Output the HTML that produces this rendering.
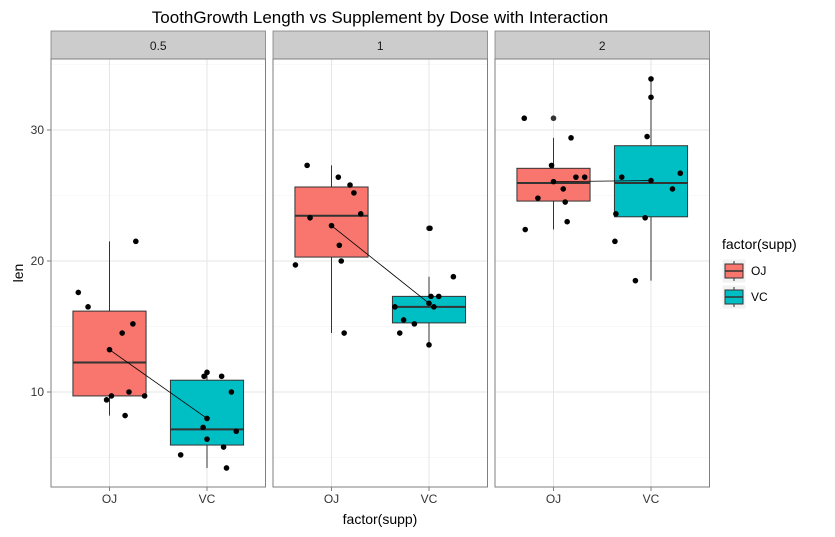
<!DOCTYPE html>
<html><head><meta charset="utf-8"><style>body{margin:0;background:#fff}svg{display:block;font-family:"Liberation Sans",sans-serif}</style></head>
<body>
<svg id="c" width="835" height="537"></svg>
<script>
const doses=["0.5","1","2"];
const supps=["OJ","VC"];
const ojValues=[[15.2,21.5,17.6,9.7,14.5,10,8.2,9.4,16.5,9.7],[19.7,23.3,23.6,26.4,20,25.2,25.8,21.2,14.5,27.3],[25.5,26.4,22.4,24.5,24.8,30.9,26.4,27.3,29.4,23]];
const vcValues=[[4.2,11.5,7.3,5.8,6.4,10,11.2,11.2,5.2,7],[16.5,16.5,15.2,17.3,22.5,17.3,13.6,14.5,18.8,15.5],[23.6,18.5,33.9,25.5,26.4,32.5,26.7,21.5,23.3,29.5]];
const ojJitter=[[0.24,0.27,-0.32,0.02,0.13,0.2,0.16,-0.03,-0.22,0.36],[-0.37,-0.22,0.3,0.07,0.1,0.23,0.19,0.08,0.13,-0.25],[0.1,0.32,-0.29,0.12,-0.16,-0.3,0.23,-0.02,0.18,0.14]];
const vcJitter=[[0.2,0.0,-0.04,0.17,0.0,0.25,0.15,-0.03,-0.27,0.3],[0.05,-0.35,-0.15,0.02,0.01,0.1,0.0,-0.3,0.25,-0.26],[-0.36,-0.16,0.0,0.22,-0.3,0.0,0.3,-0.37,-0.06,-0.04]];
const yTicks=[10,20,30];
const yMinor=[5,15,25,35];
const svg=document.getElementById('c');const NS='http://www.w3.org/2000/svg';
function mk(t,a,p,txt){const e=document.createElementNS(NS,t);for(const k in a)e.setAttribute(k,a[k]);if(txt!==undefined)e.textContent=txt;(p||svg).appendChild(e);return e;}
const pTop=59,pBot=487;
function y(v){return 392-(v-10)*13.1;}
const panelX=[51,273,495],pw=214.5;
function xc(p,i){return panelX[p]+pw*(0.6+i)/2.2;}
function q(a,p){const s=[...a].sort((m,n)=>m-n);const h=(s.length-1)*p;const l=Math.floor(h);return s[l]+(s[Math.min(l+1,s.length-1)]-s[l])*(h-l);}
const mean=a=>a.reduce((s,v)=>s+v,0)/a.length;
let t=mk('text',{x:380,y:23,'font-size':17,'text-anchor':'middle',fill:'#000'},svg,'ToothGrowth Length vs Supplement by Dose with Interaction');

for(let p=0;p<3;p++){
 const g=mk('g',{});
 const x0=panelX[p];
 mk('rect',{x:x0,y:31,width:pw,height:28,fill:'#cccccc',stroke:'#7f7f7f','stroke-width':0.8},g);
 mk('text',{x:x0+pw/2,y:50,'font-size':12,'text-anchor':'middle',fill:'#1a1a1a'},g,doses[p]);
 mk('rect',{x:x0,y:pTop,width:pw,height:pBot-pTop,fill:'#fff'},g);
 yMinor.forEach(v=>{const yy=y(v);if(yy>pTop&&yy<pBot)mk('line',{x1:x0,x2:x0+pw,y1:yy,y2:yy,stroke:'#f2f2f2','stroke-width':0.6},g);});
 yTicks.forEach(v=>mk('line',{x1:x0,x2:x0+pw,y1:y(v),y2:y(v),stroke:'#e5e5e5','stroke-width':1},g));
 [0,1].forEach(i=>mk('line',{x1:xc(p,i),x2:xc(p,i),y1:pTop,y2:pBot,stroke:'#e5e5e5','stroke-width':1},g));
 const sets=[ojValues[p],vcValues[p]],jit=[ojJitter[p],vcJitter[p]],cols=['#F8766D','#00BFC4'];
 sets.forEach((d,i)=>{
  const q1=q(d,.25),q2=q(d,.5),q3=q(d,.75),iqr=q3-q1;
  const inl=d.filter(v=>v>=q1-1.5*iqr&&v<=q3+1.5*iqr);
  const lo=Math.min(...inl),hi=Math.max(...inl),cx=xc(p,i),hw=pw*0.375/2.2;
  const b=mk('g',{},g);
  mk('line',{x1:cx,x2:cx,y1:y(hi),y2:y(q3),stroke:'#333','stroke-width':1},b);
  mk('line',{x1:cx,x2:cx,y1:y(q1),y2:y(lo),stroke:'#333','stroke-width':1},b);
  mk('rect',{x:cx-hw,y:y(q3),width:2*hw,height:y(q1)-y(q3),fill:cols[i],stroke:'#333','stroke-width':1},b);
  mk('line',{x1:cx-hw,x2:cx+hw,y1:y(q2),y2:y(q2),stroke:'#333','stroke-width':2},b);
  d.filter(v=>!inl.includes(v)).forEach(v=>mk('circle',{cx:cx,cy:y(v),r:2.8,fill:'#333'},b));
 });
 const m0=mean(sets[0]),m1=mean(sets[1]);
 const ln=mk('line',{x1:xc(p,0),y1:y(m0),x2:xc(p,1),y2:y(m1),stroke:'#000','stroke-width':0.8},g);
 
 [m0,m1].forEach((m,i)=>mk('circle',{cx:xc(p,i),cy:y(m),r:2.8,fill:'#000'},g));
 sets.forEach((d,i)=>d.forEach((v,k)=>{const c=mk('circle',{cx:xc(p,i)+jit[i][k]*pw/2.2,cy:y(v),r:2.8,fill:'#000'},g);}));
 mk('rect',{x:x0,y:pTop,width:pw,height:pBot-pTop,fill:'none',stroke:'#7f7f7f','stroke-width':1},g);
 [0,1].forEach(i=>{mk('line',{x1:xc(p,i),x2:xc(p,i),y1:pBot,y2:pBot+4,stroke:'#7f7f7f'},g);
  const l=mk('text',{x:xc(p,i),y:503,'font-size':12,'text-anchor':'middle',fill:'#333'},g,supps[i]);});
}
yTicks.forEach(v=>{mk('line',{x1:47,x2:51,y1:y(v),y2:y(v),stroke:'#7f7f7f'});
 const l=mk('text',{x:44,y:y(v)+4,'font-size':12,'text-anchor':'end',fill:'#333'},svg,String(v));});
t=mk('text',{x:380,y:524,'font-size':14,'text-anchor':'middle'},svg,'factor(supp)');
t=mk('text',{x:23,y:273,'font-size':14,'text-anchor':'middle',transform:'rotate(-90 23 273)'},svg,'len');
t=mk('text',{x:722,y:249,'font-size':14},svg,'factor(supp)');
supps.forEach((s,i)=>{const g=mk('g',{});
 const yy=259+i*26;mk('rect',{x:722,y:yy,width:24,height:24,fill:'#f2f2f2',stroke:'#fff'},g);
 mk('line',{x1:734,x2:734,y1:yy+2,y2:yy+22,stroke:'#333'},g);
 mk('rect',{x:725,y:yy+5,width:18,height:14,fill:i?'#00BFC4':'#F8766D',stroke:'#333'},g);
 mk('line',{x1:725,x2:743,y1:yy+12,y2:yy+12,stroke:'#333','stroke-width':1.5},g);
 mk('text',{x:751,y:yy+16,'font-size':12},g,s);});
</script>
</body></html>
